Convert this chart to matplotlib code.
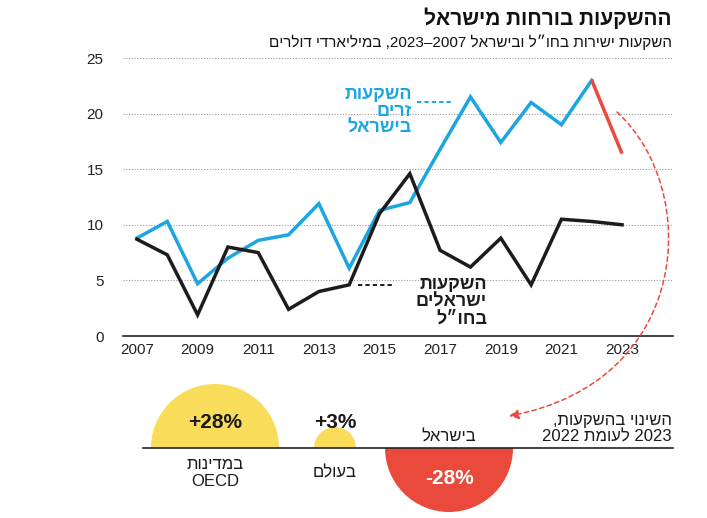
import re
import numpy as np
import matplotlib.pyplot as plt
from matplotlib.patches import Wedge, FancyArrowPatch
from matplotlib.path import Path

plt.rcParams['font.family'] = ['Liberation Sans', 'DejaVu Sans']

# data (billions of dollars)
years = list(range(2007, 2024))
foreign_in_israel = [8.8, 10.3, 4.7, 7.0, 8.6, 9.1, 11.9, 6.1, 11.3, 12.0,
                     16.8, 21.5, 17.4, 21.0, 19.0, 23.0, 16.4]
israeli_abroad = [8.7, 7.3, 1.9, 8.0, 7.5, 2.4, 4.0, 4.6, 11.0, 14.6,
                  7.7, 6.2, 8.8, 4.6, 10.5, 10.3, 10.0]
x_ticks = list(range(2007, 2024, 2))
y_ticks = [0, 5, 10, 15, 20, 25]

# change 2023 vs 2022, percent
change_labels = ['במדינות\nOECD', 'בעולם', 'בישראל']
change_values = [28, 3, -28]

BLUE = '#1ba6e2'
BLACK = '#1c1c1c'
RED = '#ea4a3c'
YELLOW = '#f8dc5a'


def heb(s):  # visual order for RTL text (matplotlib has no bidi)
    out = []
    for ln in s.split('\n'):
        r = ln[::-1]
        r = re.sub(r'[0-9A-Za-z%.+]+', lambda m: m.group(0)[::-1], r)
        out.append(r)
    return '\n'.join(out)


W, H = 707, 518
fig = plt.figure(figsize=(W / 100, H / 100), dpi=100)

# main line chart
ax = fig.add_axes([123 / W, (H - 336) / H, 550 / W, 278 / H])
ax.plot(years[:-1], foreign_in_israel[:-1], color=BLUE, lw=2.5, solid_joinstyle='miter', zorder=3)
ax.plot(years[-2:], foreign_in_israel[-2:], color=RED, lw=2.5, solid_capstyle='butt', zorder=3)
ax.plot(years, israeli_abroad, color=BLACK, lw=2.5, solid_joinstyle='miter', zorder=4)
ax.set_xlim(2006.54, 2024.68)
ax.set_ylim(0, 25)
ax.set_xticks(x_ticks)
ax.set_yticks(y_ticks)
ax.tick_params(length=0, labelsize=11, colors='#222222')
ax.tick_params(axis='y', pad=14)
ax.tick_params(axis='x', pad=5)
for y in y_ticks[1:]:
    ax.axhline(y, color='#9a9a9a', lw=0.8, ls=(0, (1, 1.5)), zorder=1)
for s in ['top', 'right', 'left']:
    ax.spines[s].set_visible(False)
ax.spines['bottom'].set_color('#222222')
ax.spines['bottom'].set_linewidth(1.2)
ax.patch.set_alpha(0)

# overlay in pixel coordinates
ov = fig.add_axes([0, 0, 1, 1])
ov.set_xlim(0, W)
ov.set_ylim(H, 0)
ov.axis('off')
ov.patch.set_alpha(0)

ov.text(672, 18, heb('ההשקעות בורחות מישראל'), ha='right', va='center',
        fontsize=15, fontweight='bold', color='#111111')
ov.text(672, 42, heb('השקעות ישירות בחו״ל ובישראל 2007–2023, במיליארדי דולרים'),
        ha='right', va='center', fontsize=11, color='#111111')

# series labels
ov.text(412, 111, heb('השקעות\nזרים\nבישראל'), ha='right', va='center',
        fontsize=13, fontweight='bold', color=BLUE, linespacing=1.0)
ov.plot([417, 453], [102, 102], color=BLUE, lw=1.4, ls=(0, (2.2, 1.6)))
ov.text(487, 302, heb('השקעות\nישראלים\nבחו״ל'), ha='right', va='center',
        fontsize=13, fontweight='bold', color=BLACK, linespacing=1.0)
ov.plot([358, 395], [285, 285], color=BLACK, lw=1.4, ls=(0, (2.2, 1.6)))

# curved dashed arrow from the 2022-2023 drop down to the Israel half circle
arc = Path([(617, 112), (702, 190), (692, 382), (509, 416)],
           [Path.MOVETO, Path.CURVE4, Path.CURVE4, Path.CURVE4])
ov.add_patch(FancyArrowPatch(path=arc, arrowstyle='-|>', mutation_scale=14,
                             color=RED, lw=1.1, ls=(0, (3, 2.2))))

# half circles, area proportional to change
base_y = 448
centers = [215, 335, 449]
r_max = 64
ov.plot([143, 673], [base_y, base_y], color='#222222', lw=1.2, zorder=5)
for cx, v, lab in zip(centers, change_values, change_labels):
    r = r_max * np.sqrt(abs(v) / max(np.abs(change_values)))
    if v > 0:
        ov.add_patch(Wedge((cx, base_y), r, 180, 360, color=YELLOW, lw=0, zorder=2))
        ov.text(cx, 423, '+%d%%' % v, ha='center', va='center', fontsize=15,
                fontweight='bold', color='#1a1a1a', zorder=6)
        ov.text(cx, 473, heb(lab), ha='center', va='center', fontsize=12,
                color='#1a1a1a', linespacing=1.1)
    else:
        ov.add_patch(Wedge((cx, base_y), r, 0, 180, color=RED, lw=0, zorder=2))
        ov.text(cx, 478, '-%d%%' % abs(v), ha='center', va='center', fontsize=15,
                fontweight='bold', color='white', zorder=6)
        ov.text(cx, 437, heb(lab), ha='center', va='center', fontsize=12, color='#1a1a1a')

ov.text(672, 429, heb('השינוי בהשקעות,\n2023 לעומת 2022'), ha='right', va='center',
        fontsize=12, color='#1a1a1a', linespacing=1.1)

fig.savefig('out.png', dpi=100, facecolor='white')
